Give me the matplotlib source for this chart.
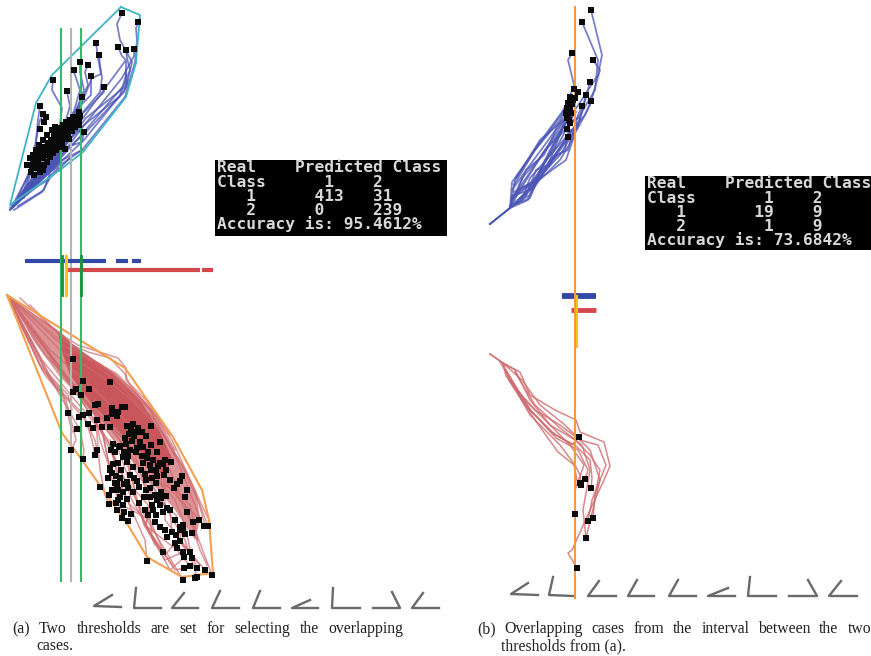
import matplotlib
matplotlib.use("Agg")
import matplotlib.pyplot as plt

# ---------- left panel, class 1 (blue) ----------
left_blue_hull = [(121,7),(140,15),(136,63),(126,97),(83,152),(60,170),(10,205),(36,103),(52,75),(121,7)]
left_blue_points = [(122,13),(138,22),(96,43),(118,47),(126,50),(134,49),(99,55),(80,62),(88,65),(74,70),(91,76),(53,80),
 (67,91),(104,87),(82,97),(40,106),(43,114),(46,117),(44,122),(40,129),(84,132),(79,112),(73,117),(79,119),(70,120),(76,125),
 (29,165),(31,172),(33,160),(35,168),(37,155),(38,163),(40,172),(41,150),(42,158),(44,165),(45,147),(46,154),(47,162),(48,143),
 (49,150),(50,157),(51,140),(52,147),(53,153),(54,136),(55,143),(56,150),(57,133),(58,140),(59,147),(60,128),(61,135),(62,143),
 (63,125),(64,132),(65,139),(66,122),(67,128),(68,134),(70,128),(71,125),(72,131),(74,122),(75,127),(77,118),(79,125),(80,116),
 (36,150),(39,145),(43,140),(47,135),(52,130),(34,175),(30,158),(27,165),(55,127),(69,139),(65,149),
 (32,166),(36,160),(40,155),(44,152),(48,148),(52,142),(56,138),(60,134),(64,128),(43,158),(47,155),(51,150),(55,146),(59,142),(63,136),(39,167),(43,170),(33,155)]
left_blue_cases = [
 [(10,210),(50,172),(82,150),(125,97),(135,62),(137,40),(136,28),(138,22)],
 [(10,210),(50,172),(84,140),(126,88),(132,62),(120,40),(117,24),(122,13)],
 [(12,208),(50,170),(84,132),(124,85),(130,70),(127,58),(126,50)],
 [(12,208),(52,168),(82,128),(122,78),(134,56),(134,49)],
 [(14,206),(52,166),(80,122),(126,60),(122,56),(118,47)],
 [(14,206),(54,162),(78,118),(100,92),(102,78),(100,65),(99,55)],
 [(16,204),(54,160),(78,112),(92,78),(101,74),(98,58),(96,43)],
 [(16,204),(56,156),(76,112),(88,85),(85,72),(88,65)],
 [(18,202),(56,152),(74,115),(84,90),(80,72),(80,62)],
 [(18,202),(58,150),(72,118),(80,90),(74,72)],
 [(20,200),(58,148),(78,118),(104,92),(104,87)],
 [(20,200),(58,144),(72,114),(91,95),(91,76)],
 [(22,198),(58,140),(62,108),(52,90),(53,80)],
 [(22,198),(60,140),(70,106),(68,97),(67,91)],
 [(24,196),(60,150),(84,125),(120,96),(126,75),(126,62)],
 [(24,196),(62,150),(86,118),(126,86),(126,70)],
 [(26,194),(62,154),(84,134),(124,92),(128,80)],
 [(26,194),(64,148),(82,142),(84,132)],
 [(10,208),(38,186),(48,180),(50,172),(62,160),(82,150)],
 [(14,210),(42,192),(50,178),(70,158)],
 [(18,206),(44,190),(48,178),(58,168)],
 [(24,198),(30,175),(38,130),(40,120),(44,114)],
 [(22,196),(34,160),(38,120),(40,106)],
 [(12,206),(26,180),(34,165),(50,140),(62,125)],
 [(16,202),(30,170),(44,145),(60,132),(72,118)],
 [(20,198),(38,168),(50,150),(70,128),(80,120)],
 [(12,208),(34,176),(52,158),(68,136),(76,125)],
 [(14,206),(40,176),(56,160),(74,130),(84,132)],
]
left_blue_band = [(12,205),(26,185),(48,165),(62,150),(60,163),(48,172),(28,190)]

# ---------- left panel, class 2 (red) ----------
left_red_hull = [(7,295),(125,368),(173,437),(202,490),(209,520),(213,573),(182,577),(147,557),(128,525),(82,460),(62,433),(7,295)]
left_red_points = [(73,359),(83,381),(89,389),(110,382),(76,389),(73,392),(81,395),(95,405),(98,404),(68,413),(79,417),(83,415),
 (89,413),(112,408),(122,407),(125,407),(118,412),(112,414),(117,416),(107,418),(97,420),(88,424),(93,428),(102,427),(110,427),
 (77,429),(71,450),(97,450),(95,455),(83,459),(127,426),(133,424),(138,428),(142,432),(151,426),(129,434),(134,436),(140,442),
 (146,436),(132,441),(126,444),(120,446),(113,444),(111,450),(119,447),(124,452),(130,450),(137,448),(143,447),(151,445),(160,442),
 (123,457),(127,462),(115,452),(113,464),(110,468),(118,463),(121,470),(112,473),(108,478),(116,476),(110,470),(120,478),(142,456),
 (148,452),(157,452),(165,460),(163,464),(166,470),(160,463),(156,470),(150,465),(143,463),(141,470),(145,474),(151,470),(158,466),
 (171,462),(146,480),(152,478),(157,476),(164,475),(170,480),(182,476),(180,481),(117,484),(118,490),(130,475),(127,482),(134,478),
 (128,488),(123,492),(133,492),(139,487),(137,481),(115,483),(112,490),(100,487),(109,495),(120,497),(127,499),(118,500),(123,505),
 (116,503),(109,504),(117,510),(124,512),(131,514),(122,518),(128,521),(139,503),(146,490),(150,497),(152,505),(157,500),(161,492),
 (166,496),(160,505),(153,510),(145,510),(148,515),(156,515),(163,512),(167,508),(174,488),(177,484),(175,520),(180,527),(183,525),
 (185,497),(187,512),(187,490),(183,528),(193,522),(204,526),(199,520),(208,526),(170,510),(155,522),(160,527),(165,530),(167,537),
 (172,532),(175,543),(177,548),(180,541),(183,552),(184,557),(190,552),(192,558),(190,566),(197,568),(205,570),(212,575),(184,568),
 (183,580),(195,578),(197,577),(147,561),(163,552),(185,534),(176,535),(180,530),(192,533),
 (131,430),(136,432),(125,438),(136,452),(128,456),(147,458),(153,460),(133,467),(124,484),(144,497),(150,488),(156,483),(161,498),(155,495)]
left_red_band_light = [(10,298),(62,333),(80,352),(117,373),(147,403),(167,437),(183,467),(197,497),(200,520),(195,540),(175,510),(158,490),(140,470),
 (120,445),(100,420),(80,397),(60,377),(33,340)]
left_red_band_dark = [(58,332),(80,350),(112,372),(140,400),(160,432),(172,458),(165,478),(140,452),(112,425),(90,402),(70,375),(62,352)]
left_red_cases = [
 [(7,295),(60,334),(78,345),(118,358),(126,368),(126,380),(146,400),(170,435)],
 [(7,295),(60,340),(88,352),(110,358),(125,374),(130,385),(155,415),(175,450)],
 [(7,295),(62,345),(100,364),(128,386),(150,408),(172,440),(195,490),(205,525)],
 [(7,295),(60,350),(100,375),(132,400),(160,430),(182,465),(200,505),(208,526)],
 [(7,295),(50,350),(90,385),(125,420),(170,470),(195,530),(212,575)],
 [(7,295),(45,355),(85,395),(120,440),(155,490),(185,540),(197,577)],
 [(7,295),(42,360),(75,400),(100,430),(120,470),(150,525),(183,580)],
 [(7,295),(40,365),(68,395),(72,410),(68,413)],
 [(7,295),(42,370),(62,390),(72,432),(77,429)],
 [(7,295),(45,375),(66,400),(76,440),(71,450)],
 [(7,295),(50,380),(84,415),(92,440),(95,455)],
 [(7,295),(55,385),(85,420),(95,440),(97,450)],
 [(7,295),(50,378),(80,430),(84,450),(83,459)],
 [(12,302),(60,370),(95,412),(100,470),(105,495),(109,504)],
 [(12,302),(62,372),(100,420),(112,480),(124,520),(128,521)],
 [(12,302),(65,376),(108,440),(125,495),(145,540),(147,561)],
 [(12,302),(68,380),(110,445),(132,500),(160,550),(163,552)],
 [(15,305),(70,385),(115,440),(145,525),(175,570),(184,568)],
 [(15,305),(72,385),(118,445),(155,500),(145,525),(177,550),(190,566)],
 [(15,305),(75,390),(120,440),(150,490),(170,510),(172,532),(205,570)],
 [(18,310),(80,395),(125,440),(165,490),(165,520),(190,552),(197,568)],
 [(18,310),(82,398),(130,445),(175,500),(185,525),(192,558)],
 [(20,315),(85,400),(135,450),(180,500),(200,520),(204,526)],
 [(20,315),(88,405),(140,455),(190,505),(198,540),(192,533)],
 [(20,298),(65,340),(110,372),(150,410),(178,462),(200,518)],
 [(30,305),(70,345),(115,380),(155,420),(185,470),(209,520)],
 [(95,415),(100,440),(105,455),(110,468)],
 [(100,420),(108,460),(122,505),(150,520),(165,555),(175,543)],
 [(120,440),(132,480),(144,525),(165,560),(183,552)],
 [(135,455),(150,505),(146,525),(170,570),(190,552)],
 [(110,440),(118,480),(130,505),(142,515),(155,545)],
 [(125,450),(135,490),(148,505),(152,535),(172,565)],
 [(145,470),(160,500),(176,515),(182,545),(200,565)],
 [(155,480),(175,490),(190,520),(200,550),(207,565)],
]

# ---------- thresholds and bars ----------
left_green_x = [60.5, 81]
left_grey_x = [71]
left_blue_bars = [(25,106),(116,128),(132,141)]
left_red_bars = [(68,200),(202,213)]
left_dark_green_x = [62, 81]
left_yellow_x = 66

# ---------- right panel ----------
right_blue_points = [(591,10),(582,22),(572,53),(593,60),(590,82),(574,89),(578,92),(570,97),(586,95),(591,101),(582,106),(568,103),
 (567,108),(570,110),(566,113),(568,115),(571,113),(567,118),(569,120),(570,123),(567,129),(568,137),(572,104),(573,100),(575,98)]
right_blue_cases = [
 [(490,224),(510,208),(515,180),(540,140),(575,110),(598,75),(602,55),(591,10)],
 [(490,224),(510,208),(520,190),(545,150),(580,115),(595,90),(598,60),(582,22)],
 [(490,224),(510,208),(525,195),(550,160),(578,128),(590,105),(600,70),(593,60)],
 [(510,208),(512,182),(535,150),(565,110),(574,85),(568,60),(572,53)],
 [(510,208),(522,200),(530,178),(555,150),(580,120),(590,82)],
 [(510,208),(528,200),(535,182),(560,155),(578,125),(586,95)],
 [(510,206),(515,195),(530,190),(550,165),(570,135),(568,137)],
 [(510,206),(520,198),(535,185),(555,155),(572,130),(567,129)],
 [(512,190),(530,165),(552,135),(566,113)],
 [(514,185),(535,150),(560,120),(568,103)],
 [(516,178),(540,142),(562,112),(570,97)],
 [(511,200),(535,165),(545,150),(568,115)],
 [(513,198),(530,185),(548,158),(571,113)],
 [(514,192),(532,182),(552,160),(565,150),(570,123)],
 [(512,196),(540,178),(556,155),(568,150),(575,125)],
 [(518,190),(538,180),(552,170),(566,160),(578,125)],
 [(520,198),(545,175),(560,160),(572,140),(578,115),(582,106)],
 [(516,204),(530,195),(545,170),(565,140),(585,115),(591,101)],
 [(514,205),(526,192),(538,175),(550,150),(562,128),(576,112)],
 [(518,204),(534,186),(542,168),(556,140),(566,122),(580,118)],
 [(522,202),(530,198),(545,160),(558,145),(572,118)],
 [(512,202),(522,178),(538,160),(552,142),(564,125),(574,115)],
 [(526,196),(536,170),(548,165),(560,135),(568,110)],
 [(516,194),(526,170),(544,155),(556,130),(566,118)],
]
right_red_points = [(579,437),(585,479),(580,483),(581,485),(591,488),(575,514),(593,518),(588,521),(586,538),(577,568)]
right_red_cases = [
 [(490,354),(503,363),(506,376),(528,408),(552,432),(572,445),(579,437)],
 [(490,354),(503,363),(520,372),(530,395),(555,410),(576,420),(580,432),(604,442),(610,466),(604,480),(590,510),(572,550),(568,553),(577,568)],
 [(503,363),(510,382),(535,410),(560,425),(580,440),(598,445),(606,465),(592,500),(588,521)],
 [(503,363),(515,370),(530,400),(550,425),(575,440),(590,455),(600,470),(595,495),(593,518)],
 [(506,370),(530,410),(555,435),(575,445),(590,460),(592,478),(591,488)],
 [(506,372),(532,412),(556,438),(578,450),(588,470),(585,479)],
 [(510,380),(530,415),(560,445),(575,465),(580,475),(581,485)],
 [(512,385),(535,420),(558,452),(574,465),(578,485),(580,483)],
 [(500,362),(520,395),(545,420),(570,445),(584,465),(575,490),(575,514)],
 [(505,365),(522,380),(540,405),(565,425),(590,450),(600,480),(586,538)],
 [(515,372),(535,405),(560,428),(582,445),(590,470),(583,510),(586,538)],
]
right_orange_x = 574.5
right_blue_bar = (562,596)
right_red_bar = (571,596)
right_yellow_x = 576

# ---------- glyphs along the bottom ----------
left_glyphs = [[(112,595),(94,606),(121,607)],[(136,588),(134,608),(161,608)],[(184,593),(172,608),(198,608)],
 [(220,591),(212,608),(239,608)],[(260,591),(253,608),(280,608)],[(310,600),(292,608),(318,608)],
 [(333,588),(332,608),(360,608)],[(392,592),(400,608),(373,608)],[(423,593),(412,608),(439,608)]]
right_glyphs = [[(528,583),(511,594),(538,595)],[(553,577),(549,595),(573,596)],[(599,581),(588,596),(616,596)],
 [(637,580),(628,596),(654,596)],[(678,580),(669,596),(696,596)],[(728,588),(708,596),(735,596)],
 [(750,577),(748,596),(776,596)],[(808,580),(817,596),(789,596)],[(841,581),(829,596),(857,596)]]

# ---------- console text ----------
left_console = ["Real    Predicted Class","Class      1    2","   1      413   31","   2      0     239","Accuracy is: 95.4612%"]
right_console = ["Real    Predicted Class","Class       1    2","   1       19    9","   2        1    9","Accuracy is: 73.6842%"]

# ---------- captions ----------
cap_a = ["(a) Two thresholds are set for selecting the overlapping", "cases."]
cap_b = ["(b) Overlapping cases from the interval between the two", "thresholds from (a)."]

BLUE="#4b55b5"; RED="#cf6a6e"; TEAL="#3fb4c6"; ORANGE="#f3a050"; GREEN="#2fbf6a"; GREY="#b5b5b5"; DGREEN="#1f8f3a"; YEL="#f5c518"

fig = plt.figure(figsize=(8.71,6.56), dpi=100)
ax = fig.add_axes([0,0,1,1])
ax.set_xlim(0,871); ax.set_ylim(656,0); ax.axis("off")

def poly(pts, **kw):
    ax.plot([p[0] for p in pts],[p[1] for p in pts], solid_joinstyle="round", **kw)
def dots(pts, s=18):
    ax.scatter([p[0] for p in pts],[p[1] for p in pts], marker="s", s=s, c="#0a0a0a", linewidths=0, zorder=6)

# left
ax.fill([p[0] for p in left_red_band_light],[p[1] for p in left_red_band_light], color="#dc9497", lw=0, zorder=1)
ax.fill([p[0] for p in left_red_band_dark],[p[1] for p in left_red_band_dark], color="#c9565a", lw=0, zorder=1)
ax.fill([p[0] for p in left_blue_band],[p[1] for p in left_blue_band], color=BLUE, alpha=.9, lw=0, zorder=1)
for c in left_blue_cases: poly(c, color=BLUE, lw=1.3, alpha=.75, zorder=2)
for c in left_red_cases: poly(c, color=RED, lw=1.1, alpha=.7, zorder=2)
poly(left_blue_hull, color=TEAL, lw=1.3, zorder=3)
poly(left_red_hull, color=ORANGE, lw=1.5, zorder=3)
for x in left_grey_x: ax.plot([x,x],[29,581], color=GREY, lw=1.5, zorder=4)
for x in left_green_x: ax.plot([x,x],[29,581], color=GREEN, lw=1.5, zorder=5)
for a,b in left_blue_bars: ax.plot([a,b],[261,261], color="#3349a8", lw=3, solid_capstyle="butt", zorder=4)
for a,b in left_red_bars: ax.plot([a,b],[270,270], color="#d4484c", lw=3, solid_capstyle="butt", zorder=4)
for x in left_dark_green_x: ax.plot([x,x],[256,295], color=DGREEN, lw=2, zorder=5)
ax.plot([left_yellow_x]*2,[256,295], color=YEL, lw=2.2, zorder=5)
dots(left_blue_points); dots(left_red_points)

# right
for c in right_blue_cases: poly(c, color=BLUE, lw=1.3, alpha=.75, zorder=2)
for c in right_red_cases: poly(c, color=RED, lw=1.1, alpha=.8, zorder=2)
ax.plot([right_orange_x]*2,[7,598], color="#f09a45", lw=1.5, zorder=5)
ax.plot(right_blue_bar,[296,296], color="#3349a8", lw=4.2, solid_capstyle="butt", zorder=4)
ax.plot(right_red_bar,[310,310], color="#d4484c", lw=3.5, solid_capstyle="butt", zorder=4)
ax.plot([right_yellow_x]*2,[296,346], color=YEL, lw=2.2, zorder=4)
dots(right_blue_points); dots(right_red_points)

# glyphs
for g in left_glyphs+right_glyphs: poly(g, color="#6a6a6a", lw=1.7, zorder=3)

# consoles
ax.fill_between([215,447],160,236, color="black", lw=0, zorder=7)
ax.fill_between([645,871],176,250, color="black", lw=0, zorder=7)
for i,l in enumerate(left_console):
    ax.text(217,168+i*14.1,l,family="DejaVu Sans Mono",weight="bold",color="#d8d8d8",fontsize=11.7,va="center",ha="left",zorder=8)
for i,l in enumerate(right_console):
    ax.text(647,184+i*14.1,l,family="DejaVu Sans Mono",weight="bold",color="#d8d8d8",fontsize=11.7,va="center",ha="left",zorder=8)

# captions: justified word placement
def justified(words_line, x0, x1, y):
    words = words_line.split(" ")
    r = fig.canvas.get_renderer()
    arts = [ax.text(0,y,w,family="Liberation Serif",fontsize=11.3,va="center",ha="left",color="#222222") for w in words]
    widths = [a.get_window_extent(r).width for a in arts]
    gap = (x1-x0-sum(widths))/(len(words)-1)
    x = x0
    for a,w in zip(arts,widths):
        a.set_x(x); x += w+gap

justified(cap_a[0],12,403,629)
ax.text(36,646,cap_a[1],family="Liberation Serif",fontsize=11.3,va="center",ha="left",color="#222222")
justified(cap_b[0],477,871,629)
ax.text(501,646,cap_b[1],family="Liberation Serif",fontsize=11.3,va="center",ha="left",color="#222222")

fig.savefig("out.png", dpi=100)
